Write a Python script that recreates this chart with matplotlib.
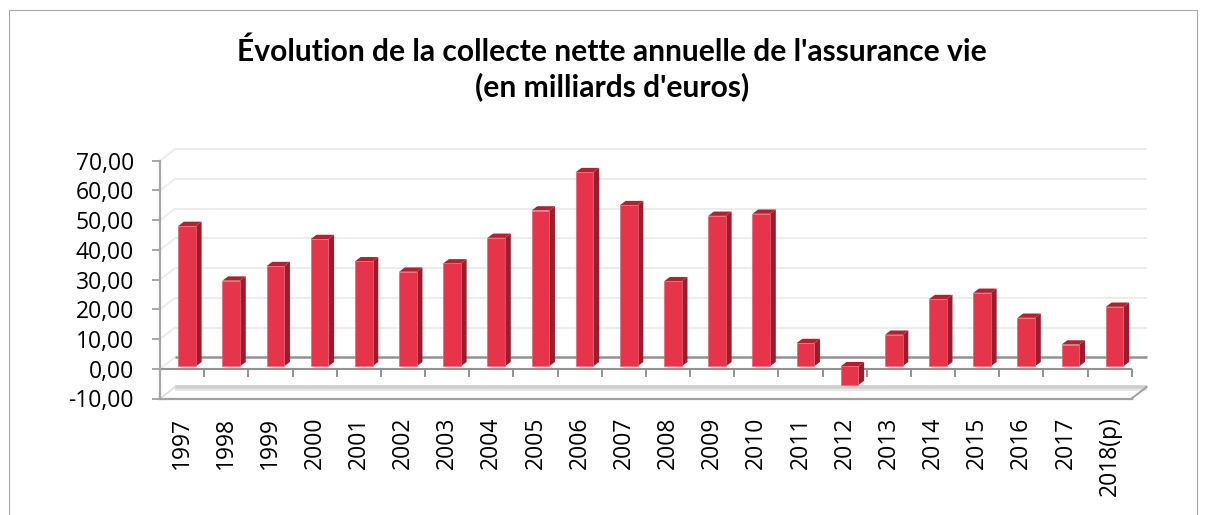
import matplotlib
matplotlib.use('Agg')
import matplotlib.pyplot as plt
import matplotlib.markers as mmarkers
from matplotlib.patches import Polygon
from matplotlib.lines import Line2D
import numpy as np

years = ['1997', '1998', '1999', '2000', '2001', '2002', '2003', '2004', '2005', '2006', '2007',
         '2008', '2009', '2010', '2011', '2012', '2013', '2014', '2015', '2016', '2017', '2018(p)']
collecte = [47.2, 28.8, 33.7, 42.8, 35.3, 31.8, 34.6, 43.2, 52.4, 65.3, 54.2,
            28.6, 50.6, 51.3, 7.8, -6.3, 10.6, 22.6, 24.7, 16.3, 7.3, 20.0]
y_ticks = [-10, 0, 10, 20, 30, 40, 50, 60, 70]

FRONT = '#E6344A'
SIDE = '#981E2C'
TOP = '#B3202F'
GRID = '#ECECEC'
AXIS = '#929292'
TICKFONT = 'Open Sans'

W, H = 1208, 515
fig = plt.figure(figsize=(W / 100, H / 100), dpi=100, facecolor='white')
ax = fig.add_axes([160 / W, 1 - 398.5 / H, 971.7 / W, (398.5 - 160.7) / H])
n = len(years)
x = np.arange(n)
ax.set_xlim(-0.5, n - 0.5)
ax.set_ylim(y_ticks[0], y_ticks[-1])

# pixel -> data units, for the fake 3D depth
ux = ax.bbox.width / n
uy = ax.bbox.height / (y_ticks[-1] - y_ticks[0])
def d(px, py):
    return px / ux, py / uy

wall_dx, wall_dy = d(15, 11.5)
bar_dx, bar_dy = d(5, 2.5)
dep_dx, dep_dy = d(5.7, 4.3)

# back wall gridlines + left diagonals
for v in y_ticks[1:]:
    ax.plot([-0.5, -0.5 + wall_dx], [v, v + wall_dy], color=GRID, lw=1.4,
            clip_on=False, zorder=1)
    ax.plot([-0.5 + wall_dx, n - 0.5 + wall_dx], [v + wall_dy, v + wall_dy],
            color=AXIS if v == 0 else GRID, lw=1.8 if v == 0 else 1.4,
            clip_on=False, zorder=1, solid_capstyle='butt')

# floor slab at -10
fy = y_ticks[0]
floor = Polygon([(-0.5, fy), (n - 0.5, fy), (n - 0.5 + wall_dx, fy + wall_dy),
                 (-0.5 + wall_dx, fy + wall_dy)], closed=True, fc='white', ec='none',
                clip_on=False, zorder=1)
ax.add_patch(floor)
ax.plot([-0.5 + wall_dx, n - 0.5 + wall_dx], [fy + wall_dy] * 2, color='#CDCDCD', lw=2.6,
        clip_on=False, zorder=1, solid_capstyle='butt')
ax.plot([-0.5 + wall_dx, n - 0.5 + wall_dx], [fy + wall_dy - d(0, 2.5)[1]] * 2,
        color='#E6E6E6', lw=1.6, clip_on=False, zorder=1, solid_capstyle='butt')
ax.plot([-0.5, -0.5 + wall_dx], [fy, fy + wall_dy], color='#DADADA', lw=1.2,
        clip_on=False, zorder=1)
ax.plot([n - 0.5, n - 0.5 + wall_dx], [fy, fy + wall_dy], color='#A0A0A0', lw=1.4,
        clip_on=False, zorder=1)

# front category axis at 0 with tick marks
ax.plot([-0.5, n - 0.5], [0, 0], color=AXIS, lw=1.5, zorder=2, solid_capstyle='butt')
ax.plot(x + 0.5, np.zeros(n), ls='none', marker=mmarkers.TICKDOWN, ms=5.8, mew=1.4,
        color=AXIS, zorder=2, clip_on=False)

# bars: front face, side and top
ax.bar(x + bar_dx, collecte, 0.4, bottom=bar_dy, color=FRONT, edgecolor='#EC6374',
       linewidth=0.5, zorder=4, clip_on=False)
for xi, v in zip(x, collecte):
    xl = xi + bar_dx - 0.2
    xr = xi + bar_dx + 0.2
    lo = bar_dy + min(v, 0)
    hi = bar_dy + max(v, 0)
    ax.add_patch(Polygon([(xr, lo), (xr + dep_dx, lo + dep_dy), (xr + dep_dx, hi + dep_dy),
                          (xr, hi)], closed=True, fc=SIDE, ec='none', zorder=3, clip_on=False))
    ax.add_patch(Polygon([(xl, hi), (xr, hi), (xr + dep_dx, hi + dep_dy),
                          (xl + dep_dx, hi + dep_dy)], closed=True, fc=TOP, ec='none',
                         zorder=3, clip_on=False))

# axes styling
for s in ['top', 'right']:
    ax.spines[s].set_visible(False)
ax.spines['left'].set_color('#A6A6A6')
ax.spines['left'].set_linewidth(1.6)
ax.spines['bottom'].set_color('#A0A0A0')
ax.spines['bottom'].set_linewidth(1.6)
ax.set_yticks(y_ticks)
ax.set_yticklabels([f'{v:.2f}'.replace('.', ',') for v in y_ticks], family=TICKFONT,
                   fontsize=16.5)
ax.tick_params(axis='y', direction='out', length=5.8, width=1.4, color='#A6A6A6', pad=13)
ax.set_xticks(x)
ax.set_xticklabels(years, rotation=90, family=TICKFONT, fontsize=16.5)
ax.tick_params(axis='x', length=0, pad=13)
ax.set_facecolor('none')

fig.text(612 / W, 1 - 69 / H,
         "Évolution de la collecte nette annuelle de l'assurance vie\n(en milliards d'euros)",
         ha='center', va='center', fontsize=21.6, fontweight='bold', family='Lato',
         linespacing=1.27)

# outer chart border (bottom edge is off the picture)
fig.add_artist(Line2D([9 / W, 9 / W, 1197 / W, 1197 / W], [-0.1, 1 - 10 / H, 1 - 10 / H, -0.1],
                      transform=fig.transFigure, color='#A6A6A6', lw=0.8))

fig.savefig('out.png', dpi=100, facecolor='white')
